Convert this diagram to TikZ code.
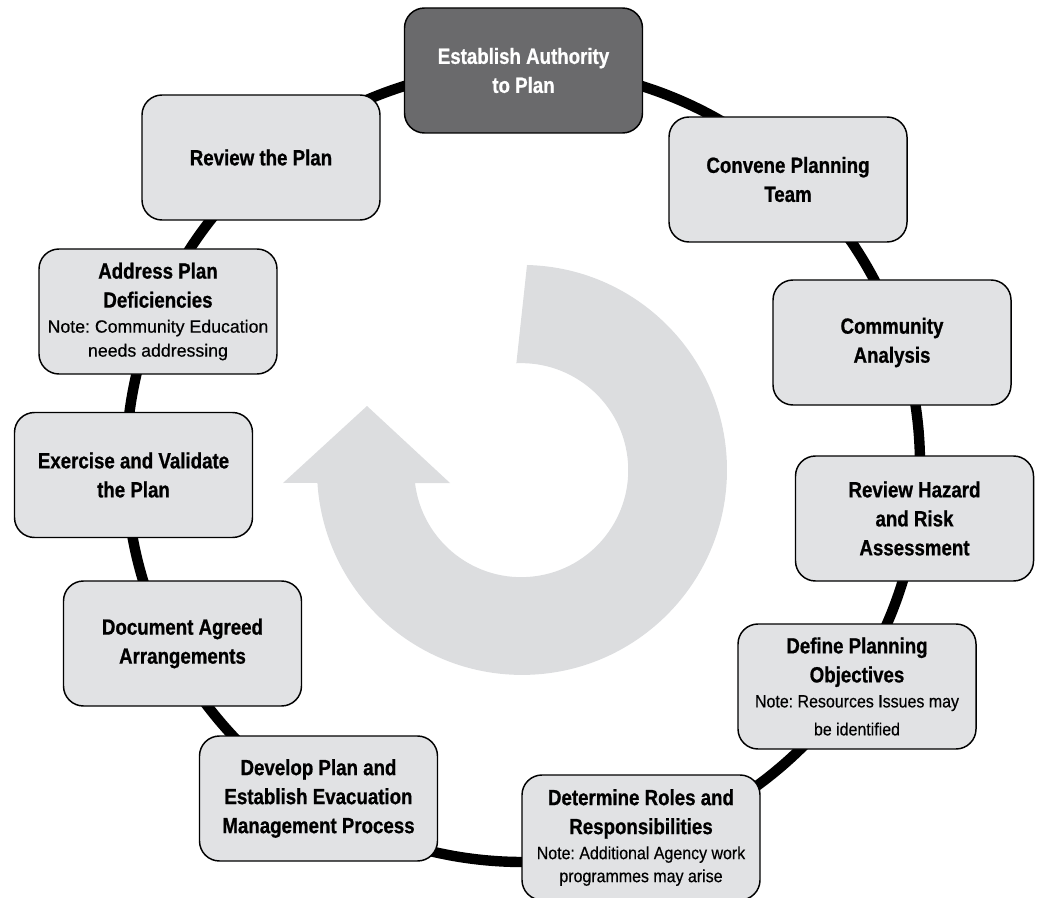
\documentclass[tikz,border=0pt]{standalone}
\usepackage{fontspec}
\setmainfont{Liberation Sans}[FakeStretch=0.85, BoldFeatures={FakeBold=0.8}]
\newfontfamily\notefont{Liberation Sans}[FakeStretch=0.9, FakeBold=0.4]
\newfontfamily\widenotefont{Liberation Sans}[FakeBold=0.4]
\usepackage{tikz}
\frenchspacing

\definecolor{boxgray}{RGB}{225,226,228}
\definecolor{darkbox}{RGB}{106,106,108}
\definecolor{arrowgray}{RGB}{220,221,223}

\newcommand{\stagenote}[1]{{\notefont\mdseries\fontsize{13.3}{16}\selectfont #1}}
\newcommand{\widenote}[1]{{\widenotefont\mdseries\fontsize{13.3}{16}\selectfont #1}}

\tikzset{
  stage/.style={draw, line width=1.1pt, fill=boxgray, rounded corners=15pt,
    minimum width=178.5pt, minimum height=93.75pt, inner sep=0pt, align=center,
    font=\bfseries\fontsize{16.5}{21.75}\selectfont},
  startstage/.style={stage, fill=darkbox, text=white},
}

\begin{document}
\begin{tikzpicture}[x=0.75pt,y=0.75pt,yscale=-1,xscale=1]
    \useasboundingbox (0,0) rectangle (1037,898);

    %Shape: Circle (the planning cycle)
    \coordinate (hub) at (523,465);
    \draw [line width=7.8pt] (hub) circle [radius=397];

    %Shape: Circular Arrow
    \fill [arrowgray] (527,265) arc [start angle=-88.6, end angle=176.4, radius=205]
        -- (283,483) -- (367,406) -- (450,483) -- (415,483)
        arc [start angle=173.1, end angle=-92.6, radius=107] -- cycle;

    % Text Node
    \node [startstage] (authority) at (523.5,70.5) {Establish Authority\\to Plan};
    % Text Node
    \node [stage] (convene) at (788,179.5) {Convene Planning\\Team};
    % Text Node
    \node [stage] (community) at (892,342.5) {Community\\Analysis};
    % Text Node
    \node [stage] (hazard) at (914.5,518.5) {Review Hazard\\and Risk\\Assessment};
    % Text Node
    \node [stage] (objectives) at (857,686.5) {Define Planning\\Objectives\\[-3pt]
        \stagenote{Note: Resources Issues may}\\[-0.75pt] \stagenote{be identified}};
    % Text Node
    \node [stage] (roles) at (641,837.5) {Determine Roles and\\Responsibilities\\[-3pt]
        \stagenote{Note: Additional Agency work}\\[-4.5pt] \stagenote{programmes may arise}};
    % Text Node
    \node [stage] (develop) at (318.5,798.5) {Develop Plan and\\Establish Evacuation\\Management Process};
    % Text Node
    \node [stage] (document) at (182.5,643.5) {Document Agreed\\Arrangements};
    % Text Node
    \node [stage] (exercise) at (133.5,475) {Exercise and Validate\\the Plan};
    % Text Node
    \node [stage] (deficiencies) at (158,311.5) {Address Plan\\Deficiencies\\[-3pt]
        \widenote{Note: Community Education}\\[-3.75pt] \widenote{needs addressing}};
    % Text Node
    \node [stage] (review) at (261,157.5) {Review the Plan};

\end{tikzpicture}
\end{document}
